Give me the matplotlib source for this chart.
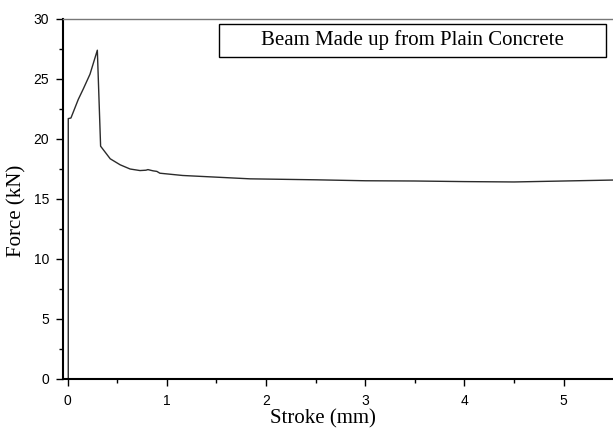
import matplotlib
matplotlib.use('Agg')
import matplotlib.pyplot as plt
from matplotlib.patches import Rectangle
from matplotlib.ticker import MultipleLocator

# Load-displacement readings for the plain concrete beam
stroke_mm = [0.0, 0.007, 0.007, 0.034, 0.108, 0.16, 0.226, 0.30, 0.333, 0.43, 0.53,
             0.63, 0.73, 0.79, 0.81, 0.86, 0.90, 0.93, 1.16, 1.84, 2.5, 3.0, 3.5,
             4.0, 4.5, 5.0, 5.5]
force_kn = [0.0, 0.0, 21.7, 21.75, 23.3, 24.2, 25.4, 27.4, 19.4, 18.35, 17.85,
            17.5, 17.37, 17.4, 17.45, 17.35, 17.3, 17.15, 16.96, 16.68, 16.6, 16.52,
            16.5, 16.45, 16.42, 16.5, 16.58]

x_ticks = [0, 1, 2, 3, 4, 5]
y_ticks = [0, 5, 10, 15, 20, 25, 30]
title = "Beam Made up from Plain Concrete"

W, H = 613, 433
# axes frame in pixels: left, top, right, bottom
AL, AT, AR, AB = 63, 19, 613, 379

fig = plt.figure(figsize=(W / 100, H / 100), dpi=100)
ax = fig.add_axes([AL / W, 1 - AB / H, (AR - AL) / W, (AB - AT) / H])


def px_to_axes(px, py):
    return (px - AL) / (AR - AL), (AB - py) / (AB - AT)


ax.plot(stroke_mm, force_kn, color='#2b2b2b', lw=1.0)

ax.set_xlim(-0.046, 5.497)
ax.set_ylim(0, 30)
ax.set_xticks(x_ticks)
ax.set_yticks(y_ticks)
ax.xaxis.set_minor_locator(MultipleLocator(0.5))
ax.yaxis.set_minor_locator(MultipleLocator(2.5))
ax.tick_params(which='major', direction='out', length=5, width=1.0, labelsize=10,
               pad=5, top=False, right=False)
ax.tick_params(axis='x', which='major', pad=6)
ax.tick_params(which='minor', direction='out', length=3, width=1.0,
               top=False, right=False)
for lbl in ax.get_xticklabels() + ax.get_yticklabels():
    lbl.set_family('Liberation Sans')

ax.spines['right'].set_visible(False)
ax.spines['left'].set_linewidth(1.5)
ax.spines['bottom'].set_linewidth(1.5)
ax.spines['top'].set_linewidth(1.0)
ax.spines['top'].set_color('#777777')

# axis titles placed in figure pixels
fig.text(323 / W, 1 - 419 / H, 'Stroke (mm)', ha='center', va='center',
         family='Liberation Serif', fontsize=15)
fig.text(17 / W, 1 - 211 / H, 'Force (kN)', ha='center', va='center', rotation=90,
         family='Liberation Serif', fontsize=15)

# framed caption in the upper right
bx0, bx1, by0, by1 = 219, 606, 24, 57
corner = px_to_axes(bx0, by1)
ax.add_patch(Rectangle(corner, (bx1 - bx0) / (AR - AL), (by1 - by0) / (AB - AT),
                       transform=ax.transAxes, fc='white', ec='black', lw=1.0,
                       zorder=3))
cx, cy = px_to_axes((bx0 + bx1) / 2, (by0 + by1) / 2)
ax.text(cx, cy, title, transform=ax.transAxes, ha='center', va='center',
        family='Liberation Serif', fontsize=15, zorder=4)

fig.savefig('out.png', dpi=100)
